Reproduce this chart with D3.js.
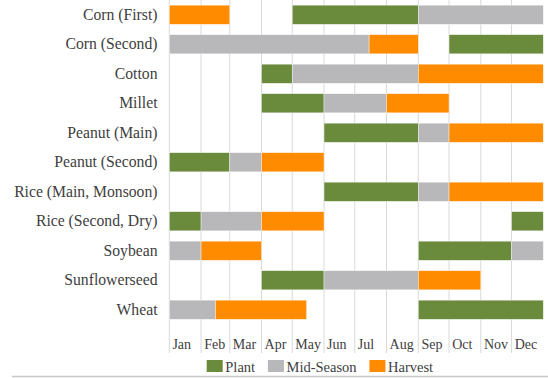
<!DOCTYPE html>
<html>
<head>
<meta charset="utf-8">
<script src="https://cdn.jsdelivr.net/npm/d3@7"></script>
<style>
  html, body { margin: 0; padding: 0; background: #fff; }
  svg { display: block; }
</style>
</head>
<body>
<svg id="chart" width="548" height="378" font-family="Liberation Serif"></svg>
<script>
// Crop calendar: planting, mid-season and harvest windows per crop
const crops = [
  "Corn (First)", "Corn (Second)", "Cotton", "Millet", "Peanut (Main)",
  "Peanut (Second)", "Rice (Main, Monsoon)", "Rice (Second, Dry)",
  "Soybean", "Sunflowerseed", "Wheat"
];
const phases = ["Plant", "Mid-Season", "Harvest"];
const months = ["Jan", "Feb", "Mar", "Apr", "May", "Jun", "Jul", "Aug", "Sep", "Oct", "Nov", "Dec"];

// [crop, start, end) — end is exclusive; 2022-01-01 means through Dec 31
const plantSpans = [
  ["Corn (First)", "2021-05-01", "2021-09-01"],
  ["Corn (Second)", "2021-10-01", "2022-01-01"],
  ["Cotton", "2021-04-01", "2021-05-01"],
  ["Millet", "2021-04-01", "2021-06-01"],
  ["Peanut (Main)", "2021-06-01", "2021-09-01"],
  ["Peanut (Second)", "2021-01-01", "2021-03-01"],
  ["Rice (Main, Monsoon)", "2021-06-01", "2021-09-01"],
  ["Rice (Second, Dry)", "2021-01-01", "2021-02-01"],
  ["Rice (Second, Dry)", "2021-12-01", "2022-01-01"],
  ["Soybean", "2021-09-01", "2021-12-01"],
  ["Sunflowerseed", "2021-04-01", "2021-06-01"],
  ["Wheat", "2021-09-01", "2022-01-01"]
];
const midSeasonSpans = [
  ["Corn (First)", "2021-09-01", "2022-01-01"],
  ["Corn (Second)", "2021-01-01", "2021-07-15"],
  ["Cotton", "2021-05-01", "2021-09-01"],
  ["Millet", "2021-06-01", "2021-08-01"],
  ["Peanut (Main)", "2021-09-01", "2021-10-01"],
  ["Peanut (Second)", "2021-03-01", "2021-04-01"],
  ["Rice (Main, Monsoon)", "2021-09-01", "2021-10-01"],
  ["Rice (Second, Dry)", "2021-02-01", "2021-04-01"],
  ["Soybean", "2021-01-01", "2021-02-01"],
  ["Soybean", "2021-12-01", "2022-01-01"],
  ["Sunflowerseed", "2021-06-01", "2021-09-01"],
  ["Wheat", "2021-01-01", "2021-02-15"]
];
const harvestSpans = [
  ["Corn (First)", "2021-01-01", "2021-03-01"],
  ["Corn (Second)", "2021-07-15", "2021-09-01"],
  ["Cotton", "2021-09-01", "2022-01-01"],
  ["Millet", "2021-08-01", "2021-10-01"],
  ["Peanut (Main)", "2021-10-01", "2022-01-01"],
  ["Peanut (Second)", "2021-04-01", "2021-06-01"],
  ["Rice (Main, Monsoon)", "2021-10-01", "2022-01-01"],
  ["Rice (Second, Dry)", "2021-04-01", "2021-06-01"],
  ["Soybean", "2021-02-01", "2021-04-01"],
  ["Sunflowerseed", "2021-09-01", "2021-11-01"],
  ["Wheat", "2021-02-15", "2021-05-15"]
];

const phaseColors = ["#6a8a3c", "#b8b7b9", "#ff8c00"];
const spansByPhase = [plantSpans, midSeasonSpans, harvestSpans];
const textColor = "#404040";
const serif = "Liberation Serif";

const svg = d3.select("#chart");
const parse = d3.utcParse("%Y-%m-%d");

const x = d3.scaleUtc()
  .domain([parse("2021-01-01"), parse("2022-01-01")])
  .range([169.3, 543.3]);

const y = d3.scaleBand()
  .domain(crops)
  .range([0, 324.5])
  .paddingInner(0.35)
  .paddingOuter(0.175);

const color = d3.scaleOrdinal().domain(phases).range(phaseColors);

// Month gridlines
const monthStarts = x.ticks(d3.utcMonth.every(1)).filter(d => d < x.domain()[1]);
svg.append("g")
  .selectAll("line")
  .data(monthStarts)
  .join("line")
  .attr("x1", d => x(d)).attr("x2", d => x(d))
  .attr("y1", 0).attr("y2", 353)
  .attr("stroke", "#d9d9d9")
  .attr("stroke-width", 1);

// Bars
const segments = spansByPhase.flatMap((spans, i) =>
  spans.map(([crop, s, e]) => ({ crop, phase: phases[i], start: parse(s), end: parse(e) })));

svg.append("g")
  .selectAll("rect")
  .data(segments)
  .join("rect")
  .attr("x", d => x(d.start))
  .attr("width", d => x(d.end) - x(d.start))
  .attr("y", d => y(d.crop))
  .attr("height", y.bandwidth())
  .attr("fill", d => color(d.phase))
  .attr("stroke", "#fff")
  .attr("stroke-opacity", 0.7)
  .attr("stroke-width", 0.6);

// Crop labels
const yAxis = svg.append("g")
  .attr("transform", "translate(157.5,0)")
  .call(d3.axisLeft(y).tickSize(0).tickPadding(0))
  .attr("font-family", serif)
  .attr("font-size", 15.7);
yAxis.select(".domain").remove();
yAxis.selectAll("text")
  .attr("dy", "0.33em")
  .attr("fill", textColor);

// Month labels
const xAxis = svg.append("g")
  .attr("transform", "translate(0,348.5)")
  .call(d3.axisBottom(x)
    .tickValues(monthStarts)
    .tickFormat((d, i) => months[i])
    .tickSize(0))
  .attr("font-family", serif)
  .attr("font-size", 14);
xAxis.select(".domain").remove();
xAxis.selectAll("text")
  .attr("y", 0)
  .attr("dy", null)
  .attr("dx", 2.6)
  .attr("text-anchor", "start")
  .attr("fill", textColor);

// Legend
const legend = svg.append("g")
  .attr("transform", "translate(206.7,360)")
  .attr("font-family", serif)
  .attr("font-size", 14.5);
let cursor = 0;
phases.forEach(p => {
  const g = legend.append("g").attr("transform", `translate(${cursor},0)`);
  g.append("rect").attr("width", 16).attr("height", 12).attr("fill", color(p));
  const t = g.append("text")
    .attr("x", 18.6).attr("y", 12)
    .attr("fill", textColor)
    .text(p);
  cursor += 18.6 + t.node().getComputedTextLength() + 12.8;
});

// Bottom rule
svg.append("line")
  .attr("x1", 12).attr("x2", 548)
  .attr("y1", 376.5).attr("y2", 376.5)
  .attr("stroke", "#c8c8c8")
  .attr("stroke-width", 1.5);
</script>
</body>
</html>
